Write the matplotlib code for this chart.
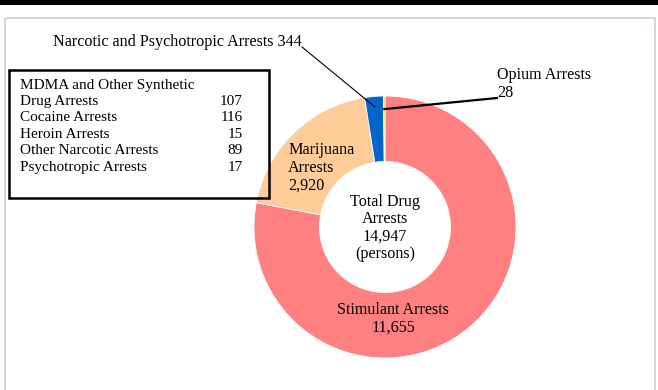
import matplotlib.pyplot as plt
from matplotlib.patches import Rectangle
import numpy as np

plt.rcParams['font.family'] = ['Liberation Serif', 'DejaVu Serif']

# ring slices, clockwise from the top
slice_names = ['Stimulant Arrests', 'Marijuana Arrests',
               'Narcotic and Psychotropic Arrests', 'Opium Arrests']
slice_values = [11655, 2920, 344, 28]
slice_colors = ['#FF8080', '#FFCC99', '#0066CC', '#FFC000']
total_arrests = 14947

# breakdown box
box_names = ['MDMA and Other Synthetic\nDrug Arrests', 'Cocaine Arrests',
             'Heroin Arrests', 'Other Narcotic Arrests', 'Psychotropic Arrests']
box_values = [107, 116, 15, 89, 17]

W, H = 658, 390
fig = plt.figure(figsize=(W / 100, H / 100), dpi=100)

# background in pixel coords (y down)
bg = fig.add_axes([0, 0, 1, 1])
bg.set_xlim(0, W)
bg.set_ylim(H, 0)
bg.axis('off')
bg.add_patch(Rectangle((0, 0), W, 5, color='black', lw=0))
bg.add_patch(Rectangle((5, 18), 650, 400, fill=False, ec='#C8D0DC', lw=1.2))

# donut
cx, cy, R = 385, 227, 131
ax = fig.add_axes([(cx - R) / W, (H - cy - R) / H, 2 * R / W, 2 * R / H])
wedges, _ = ax.pie(slice_values, colors=slice_colors, startangle=90,
                   counterclock=False, radius=1,
                   wedgeprops=dict(width=0.5, edgecolor='white', linewidth=0.6))
ax.set_xlim(-1, 1)
ax.set_ylim(-1, 1)
ax.set_aspect('equal')

# overlay for labels, on top of the donut
ov = fig.add_axes([0, 0, 1, 1])
ov.set_xlim(0, W)
ov.set_ylim(H, 0)
ov.axis('off')
ov.patch.set_alpha(0)


def ring_point(w, r):
    a = np.deg2rad((w.theta1 + w.theta2) / 2)
    return cx + R * r * np.cos(a), cy - R * r * np.sin(a)


fs = 11.6
ls = 1.13
# leader lines
px, py = ring_point(wedges[2], 0.92)
ov.plot([302, px], [47, py], color='black', lw=0.8)
ov.text(53, 42, f'{slice_names[2]} {slice_values[2]}', fontsize=fs,
        va='center', ha='left')

px, py = ring_point(wedges[3], 0.90)
ov.plot([497, px], [98, py], color='black', lw=1.6)
ov.text(497, 84, f'{slice_names[3]}\n{slice_values[3]}', fontsize=fs,
        va='center', ha='left', linespacing=ls)

ov.text(288, 168, 'Marijuana\nArrests\n' + f'{slice_values[1]:,}', fontsize=fs,
        va='center', ha='left', linespacing=ls)
ov.text(393, 319, f'{slice_names[0]}\n{slice_values[0]:,}', fontsize=fs,
        va='center', ha='center', linespacing=ls)
ov.text(385, 228, f'Total Drug\nArrests\n{total_arrests:,}\n(persons)',
        fontsize=fs, va='center', ha='center', linespacing=ls)

# breakdown box
ov.add_patch(Rectangle((9, 70), 260, 128, fill=False, ec='black', lw=1.8))
y = 85
for name, val in zip(box_names, box_values):
    lines = name.split('\n')
    for ln in lines:
        ov.text(20, y, ln, fontsize=11, va='center', ha='left')
        if ln is lines[-1]:
            ov.text(243, y, str(val), fontsize=11, va='center', ha='right')
        y += 16.4

fig.savefig('out.png', dpi=100)
